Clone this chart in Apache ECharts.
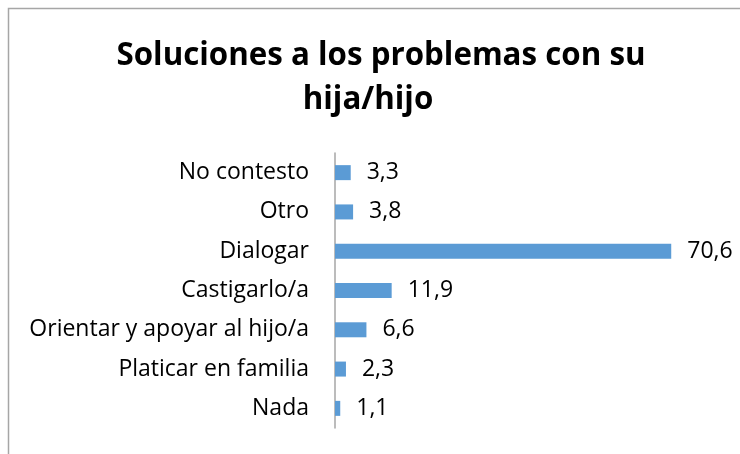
<!DOCTYPE html>
<html><head><meta charset="utf-8">
<script src="https://cdn.jsdelivr.net/npm/echarts@6/dist/echarts.min.js"></script>
<style>html,body{margin:0;padding:0;background:#fff}#c{width:740px;height:454px}</style>
</head><body><div id="c"></div>
<script>
const titleLine1 = 'Soluciones a los problemas con su';
const titleLine2 = 'hija/hijo';
const categories = ['No contesto', 'Otro', 'Dialogar', 'Castigarlo/a', 'Orientar y apoyar al hijo/a', 'Platicar en familia', 'Nada'];
const values = [3.3, 3.8, 70.6, 11.9, 6.6, 2.3, 1.1];
const FONT = 'Open Sans';
const chart = echarts.init(document.getElementById('c'));
const tStyle = {fontFamily: FONT, fontSize: 31.3, fontWeight: 'bold', color: '#000'};
chart.setOption({
  animation: false,
  graphic: [{type: 'rect', shape: {x: 8.5, y: 8.5, width: 800, height: 500}, style: {fill: 'none', stroke: '#a6a6a6', lineWidth: 1.5}, silent: true}],
  title: [
    {text: titleLine1, left: 376, top: 36, textAlign: 'center', textStyle: tStyle},
    {text: titleLine2, left: 363, top: 80, textAlign: 'center', textStyle: tStyle}
  ],
  grid: {left: 335, right: 24, top: 153, bottom: 26, containLabel: false},
  xAxis: {type: 'value', min: 0, max: 80, show: false},
  yAxis: {
    type: 'category', data: categories, inverse: true,
    axisLine: {lineStyle: {color: '#a6a6a6', width: 1.5}},
    axisTick: {show: false},
    axisLabel: {fontFamily: FONT, fontSize: 23, color: '#000', margin: 26}
  },
  series: [{
    type: 'bar', data: values, barWidth: 15,
    itemStyle: {color: '#5b9bd5'},
    label: {show: true, position: 'right', distance: 16, fontFamily: FONT, fontSize: 23, color: '#000',
      formatter: p => String(p.value).replace('.', ',')}
  }]
});
</script></body></html>
